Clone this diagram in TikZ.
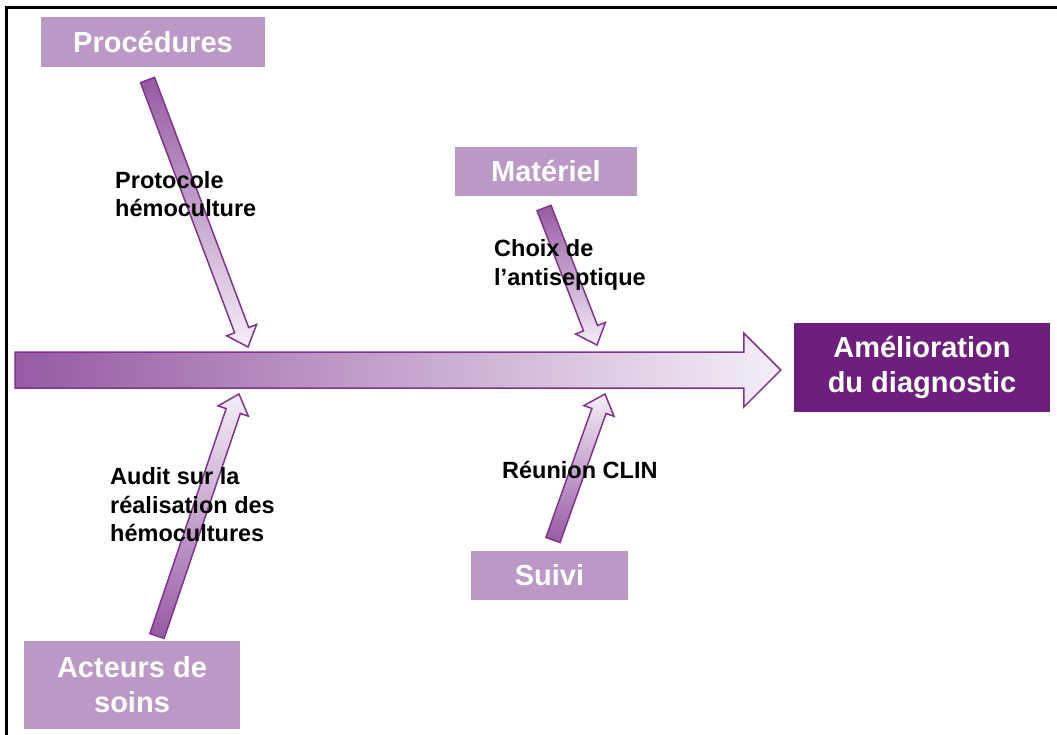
\documentclass[tikz,border=0pt]{standalone}
\usepackage{fontspec}
\setmainfont{Liberation Sans}
\usetikzlibrary{calc}

\definecolor{boxlila}{HTML}{BC98C7}
\definecolor{darklila}{HTML}{6E1F7E}
\definecolor{arrowline}{HTML}{83338F}
\definecolor{arrowdark}{HTML}{965AA3}
\definecolor{arrowlight}{HTML}{F4EEF7}

% block arrow: style, tail, tip, half shaft, half head, head length
\newcommand{\blockarrow}[6]{%
  \coordinate (neck) at ($(#3)!#6!(#2)$);
  \draw[fisharrow,#1] ($(#2)!#4!90:(#3)$) -- ($(neck)!#4!90:(#3)$)
    -- ($(neck)!#5!90:(#3)$) -- (#3) -- ($(neck)!#5!-90:(#3)$)
    -- ($(neck)!#4!-90:(#3)$) -- ($(#2)!#4!-90:(#3)$) -- cycle;
}

\tikzset{
  cause/.style={fill=boxlila, text=white, inner sep=0pt, align=center,
    font=\bfseries\fontsize{29}{35}\selectfont},
  effect/.style={cause, fill=darklila},
  remark/.style={anchor=west, inner sep=0pt, align=left,
    font=\bfseries\fontsize{23.5}{28.5}\selectfont},
  fisharrow/.style={draw=arrowline, line width=1.5pt, line join=miter}
}

\begin{document}
\begin{tikzpicture}[x=1pt,y=-1pt]
  \useasboundingbox (0,0) rectangle (1057,735);
  \draw[line width=3pt] (6,735) -- (6,8) -- (1057,8);

  % boxes
  \node[cause, minimum width=224, minimum height=50] (proc) at (153,42) {Procédures};
  \node[cause, minimum width=182, minimum height=49] (mat) at (546,171.5) {Matériel};
  \node[cause, minimum width=157, minimum height=49] (suivi) at (549.5,575.5) {Suivi};
  \node[cause, minimum width=216, minimum height=88] (acteurs) at (132,685) {Acteurs de\\soins};
  \node[effect, minimum width=256, minimum height=89] (amelio) at (922,367.5) {Amélioration\\du diagnostic};

  % spine
  \coordinate (tail) at (15,370);
  \coordinate (head) at ($(tail -| amelio.west)+(-13,0)$);
  \blockarrow{left color=arrowdark, right color=arrowlight}{tail}{head}{18pt}{37pt}{37pt}

  % branches
  \coordinate (procA) at (147.5,80);
  \coordinate (procB) at (248,347);
  \coordinate (matA) at (544,208);
  \coordinate (matB) at (597,345);
  \coordinate (actA) at (157,636);
  \coordinate (actB) at (239,394);
  \coordinate (suiA) at (553,540);
  \coordinate (suiB) at (605,394);
  \blockarrow{top color=arrowdark, bottom color=arrowlight}{procA}{procB}{7.5pt}{16pt}{18pt}
  \blockarrow{top color=arrowdark, bottom color=arrowlight}{matA}{matB}{7.5pt}{16pt}{18pt}
  \blockarrow{top color=arrowlight, bottom color=arrowdark}{actA}{actB}{7.5pt}{16pt}{18pt}
  \blockarrow{top color=arrowlight, bottom color=arrowdark}{suiA}{suiB}{7.5pt}{16pt}{18pt}

  % labels
  \node[remark] (prot) at (115,194) {Protocole\\hémoculture};
  \node[remark] (choix) at (494,265) {Choix de\\l’antiseptique};
  \node[remark] (audit) at (110,505) {Audit sur la\\réalisation des\\hémocultures};
  \node[remark] (clin) at (502,470) {Réunion CLIN};
\end{tikzpicture}
\end{document}
